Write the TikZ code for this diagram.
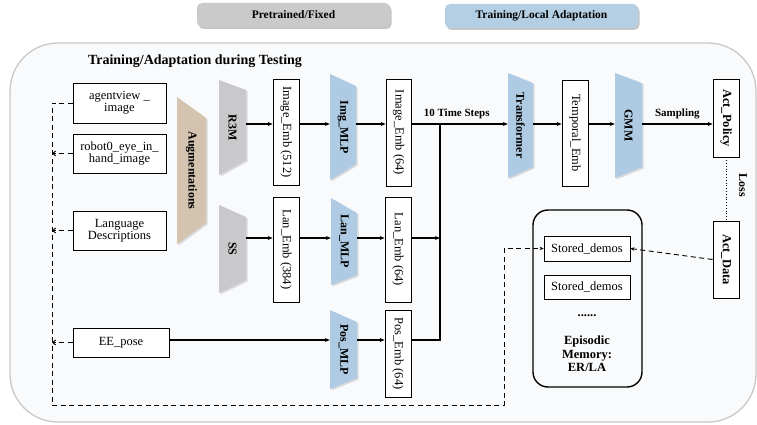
\documentclass[tikz,border=0pt]{standalone}
\usepackage{fontspec}
\setmainfont{Liberation Serif}
\usetikzlibrary{arrows.meta,shadows}
\definecolor{trapgray}{HTML}{C9C9CC}
\definecolor{trapblue}{HTML}{AECBE3}
\definecolor{traptan}{HTML}{D3C3AF}
\definecolor{outerfill}{HTML}{F9FAFB}
\definecolor{outerline}{HTML}{C8C8C8}
\definecolor{leggray}{HTML}{CACACA}
\definecolor{legblue}{HTML}{B4CFE4}
\newcommand{\mktrap}[9]{%
  \fill[black, opacity=0.13] ({#2+1.5},{#4+1.5}) -- ({#3+1.5},{#6+1.5}) -- ({#3+1.5},{#7+1.5}) -- ({#2+1.5},{#5+1.5}) -- cycle;
  \fill[#8] (#2,#4) -- (#3,#6) -- (#3,#7) -- (#2,#5) -- cycle;
  \node[inner sep=0pt, minimum width={(#3-#2)*1pt}, minimum height={(#5-#4)*1pt}, font=\fontsize{12}{14}\selectfont\bfseries] (#1) at ({(#2+#3)/2},{(#4+#5)/2}) {\rotatebox{-90}{#9}};%
}
\begin{document}
\begin{tikzpicture}[x=1pt,y=-1pt, font=\fontsize{12.5}{14}\selectfont,
  emb/.style={draw, line width=0.8pt, fill=white, inner sep=0pt, align=center},
  lbl/.style={font=\fontsize{11}{13}\selectfont\bfseries},
  conn/.style={line width=1.1pt, -{Stealth[length=5pt,width=4pt]}},
  plainline/.style={line width=1.1pt},
  dashconn/.style={line width=0.9pt, dash pattern=on 5pt off 3.5pt},
  barb/.style={-{Straight Barb[length=3pt,width=5pt]}},
  legbox/.style={rounded corners=5pt, minimum width=193pt, minimum height=24pt, inner sep=0pt,
     font=\fontsize{11.5}{13}\selectfont\bfseries, drop shadow={shadow xshift=1.5pt, shadow yshift=-2pt, opacity=0.45}},
]
\useasboundingbox (0,0) rectangle (757,425);
% outer region
\draw[outerline, fill=outerfill, line width=1.3pt, rounded corners=48pt] (10,43) rectangle (756,422);
% legend
\node[legbox, fill=leggray] (legfixed) at (293.5,15) {Pretrained/Fixed};
\node[legbox, fill=legblue] (legtrain) at (541.5,16) {Training/Local Adaptation};
\node[font=\fontsize{14}{16}\selectfont\bfseries] (title) at (195,61) {Training/Adaptation during Testing};

% row coordinates
\coordinate (rowA) at (0,124);
\coordinate (rowB) at (0,238);
\coordinate (rowC) at (0,340);
\coordinate (jx) at (440,124);
\coordinate (dl) at (52,0);
\coordinate (db) at (0,405);
\coordinate (dr) at (504,0);

% inputs
\node[emb, minimum width=93pt, minimum height=40pt] (agent) at (119.5,103) {agentview \_\\[-2pt]image};
\node[emb, minimum width=93pt, minimum height=39pt] (robot) at (119.5,153.5) {robot0\_eye\_in\_\\[-2pt]hand\_image};
\node[emb, minimum width=93pt, minimum height=39pt] (lang) at (119.5,230.5) {Language\\[-2pt]Descriptions};
\node[emb, minimum width=96pt, minimum height=29pt] (ee) at (121,342.5) {EE\_pose};

% trapezoids
\mktrap{aug}{177}{206}{97}{244}{118}{223}{traptan}{Augmentations}
\mktrap{r3m}{219}{246}{80}{175}{90}{160}{trapgray}{R3M}
\mktrap{ss}{219}{246}{205}{293}{217}{280}{trapgray}{SS}
\mktrap{imgmlp}{330}{356}{74}{180}{86}{164}{trapblue}{Img\_MLP}
\mktrap{lanmlp}{331}{357}{198}{285}{213}{275}{trapblue}{Lan\_MLP}
\mktrap{posmlp}{330}{357}{310}{389}{322}{378}{trapblue}{Pos\_MLP}
\mktrap{trans}{508}{533}{73}{178}{83}{167}{trapblue}{Transformer}
\mktrap{gmm}{615}{642}{73}{178}{83}{167}{trapblue}{GMM}

% embeddings
\node[emb, minimum width=26pt, minimum height=106pt] (ie512) at (286,132) {\rotatebox{-90}{Image\_Emb (512)}};
\node[emb, minimum width=25pt, minimum height=107pt] (ie64) at (398.5,132.5) {\rotatebox{-90}{Image\_Emb (64)}};
\node[emb, minimum width=26pt, minimum height=105pt] (le384) at (286,249.5) {\rotatebox{-90}{Lan\_Emb (384)}};
\node[emb, minimum width=26pt, minimum height=105pt] (le64) at (398,249.5) {\rotatebox{-90}{Lan\_Emb (64)}};
\node[emb, minimum width=26pt, minimum height=87pt] (pe64) at (398,353.5) {\rotatebox{-90}{Pos\_Emb (64)}};
\node[emb, minimum width=26pt, minimum height=106pt] (temb) at (575,133) {\rotatebox{-90}{Temporal\_Emb}};
\node[emb, minimum width=26pt, minimum height=78pt, font=\fontsize{12.5}{14}\selectfont\bfseries] (actp) at (726,118) {\rotatebox{-90}{Act\_Policy}};
\node[emb, minimum width=26pt, minimum height=77pt, font=\fontsize{12.5}{14}\selectfont\bfseries] (actd) at (726,259.5) {\rotatebox{-90}{Act\_Data}};

% episodic memory
\node[draw, line width=1.4pt, rounded corners=15pt, minimum width=109pt, minimum height=177pt, inner sep=0pt] (mem) at (587.5,298.5) {};
\node[emb, minimum width=86pt, minimum height=25pt] (sd1) at (587,248.5) {Stored\_demos};
\node[emb, minimum width=86pt, minimum height=24pt] (sd2) at (587,287) {Stored\_demos};
\node (dots) at (587,316) {\textbf{......}};
\node[align=center, font=\fontsize{12.5}{13.5}\selectfont\bfseries] (epi) at (587,354) {Episodic\\Memory:\\ER/LA};

% top row connectors
\draw[conn] (r3m.east |- rowA) -- (ie512.west |- rowA);
\draw[conn] (ie512.east |- rowA) -- (imgmlp.west |- rowA);
\draw[conn] (imgmlp.east |- rowA) -- (ie64.west |- rowA);
\draw[conn] (ie64.east |- rowA) -- node[lbl, above=1pt, pos=0.47] (tsteps) {10 Time Steps} (trans.west |- rowA);
\draw[conn] (trans.east |- rowA) -- (temb.west |- rowA);
\draw[conn] (temb.east |- rowA) -- (gmm.west |- rowA);
\draw[conn] (gmm.east |- rowA) -- node[lbl, above=1pt] (samp) {Sampling} (actp.west |- rowA);

% middle row
\draw[conn] (ss.east |- rowB) -- (le384.west |- rowB);
\draw[conn] (le384.east |- rowB) -- (lanmlp.west |- rowB);
\draw[conn] (lanmlp.east |- rowB) -- (le64.west |- rowB);
\draw[conn] (le64.east |- rowB) -- (jx |- rowB);

% bottom row
\draw[conn] (ee.east |- rowC) -- (posmlp.west |- rowC);
\draw[conn] (posmlp.east |- rowC) -- (pe64.west |- rowC);
\draw[plainline] (pe64.east |- rowC) -- (jx |- rowC) -- (jx);

% loss
\draw[line width=0.8pt, dotted] (actp.south) -- (actd.north);
\node[font=\fontsize{12}{14}\selectfont\bfseries] (loss) at (743,185) {\rotatebox{-90}{Loss}};

% dashed memory loop
\draw[dashconn, -{Stealth[length=4pt,width=3.5pt]}] (actd.west) -- (sd1.east);
\draw[dashconn, -{Stealth[length=4pt,width=3.5pt]}] (agent.west) -- (agent.west -| dl) -- (dl |- db) -- (dr |- db) -- (dr |- sd1.west) -- (sd1.west);
\draw[dashconn, barb] (robot.west) -- (robot.west -| dl);
\draw[dashconn, barb] (lang.west) -- (lang.west -| dl);
\draw[dashconn, barb] (ee.west) -- (ee.west -| dl);
\end{tikzpicture}
\end{document}
